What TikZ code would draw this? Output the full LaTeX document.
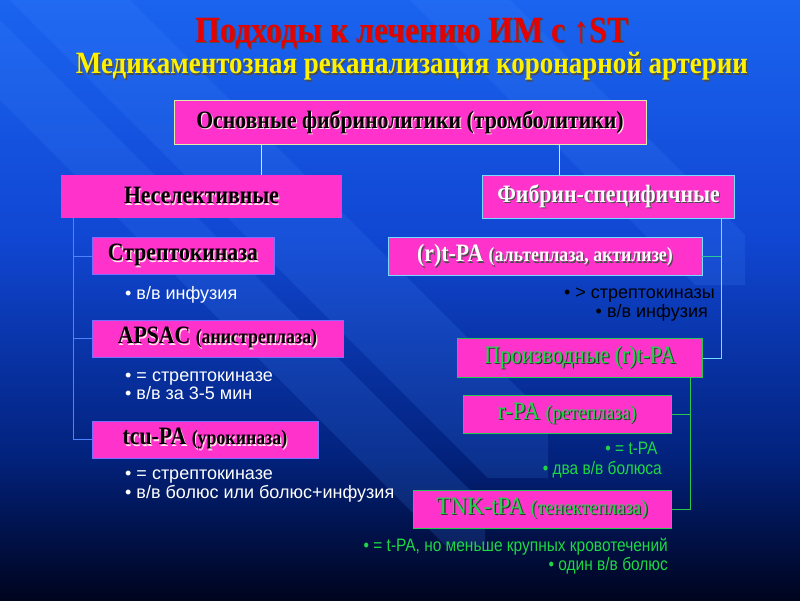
\documentclass[tikz,border=0pt]{standalone}
\usepackage{graphicx}
\usepackage{fontspec}
\setmainfont{Liberation Serif}
\newfontfamily\notefont{Liberation Sans}
\usetikzlibrary{positioning}

\definecolor{bgtop}{RGB}{26,100,240}
\definecolor{bgmid}{RGB}{16,70,210}
\definecolor{bgdark}{RGB}{2,34,125}
\definecolor{bgbot}{RGB}{0,4,30}
\definecolor{boxpink}{RGB}{255,51,204}
\definecolor{titlered}{RGB}{230,0,0}
\definecolor{grntext}{RGB}{30,215,70}
\definecolor{lineblue}{RGB}{80,130,255}
\definecolor{linecyan}{RGB}{120,220,255}
\definecolor{lineteal}{RGB}{40,200,150}
\definecolor{linecream}{RGB}{225,235,170}
\definecolor{linegreen}{RGB}{40,200,80}
\definecolor{edgeblue}{RGB}{120,110,255}
\definecolor{stripe}{RGB}{70,140,255}

\pgfdeclareverticalshading{slidebg}{100bp}{color(0bp)=(bgbot); color(25bp)=(bgbot);
  color(37bp)=(bgdark); color(55bp)=(bgmid); color(75bp)=(bgtop); color(100bp)=(bgtop)}

% text with a drop shadow: colour, shadow colour, text
\newcommand\shd[3]{\makebox[0pt][l]{\kern1.3pt\raisebox{-1.3pt}{\color{#2}#3}}{\color{#1}#3}}
% narrow the serif type a little
\newcommand\cnd[2][0.87]{\scalebox{#1}[1]{#2}}
\newcommand\bigtx{\bfseries\fontsize{25}{28}\selectfont}
\newcommand\smtx{\fontsize{20.5}{24}\selectfont}

\begin{document}
\begin{tikzpicture}[x=1pt,y=-1pt,
    pinkbox/.style = {fill=boxpink, inner sep=0pt, line width=0.8pt},
    note/.style = {font=\notefont\fontsize{18}{19}\selectfont, inner sep=0pt},
    link/.style = {line width=0.8pt}]
    \useasboundingbox (0,0) rectangle (800,600);
    \shade[shading=slidebg] (0,0) rectangle (800,600);
    % diagonal stripes of the slide
    \begin{scope}
        \clip (0,0) rectangle (800,600);
        \fill[stripe, fill opacity=0.16] (745,285) -- (745,235) -- (345,-165) -- (295,-115) -- (695,285) -- cycle;
        \fill[stripe, fill opacity=0.16] (548,478) -- (548,418) -- (48,-82) -- (-12,-22) -- (488,478) -- cycle;
        \fill[stripe, fill opacity=0.16] (485,545) -- (485,505) -- (-15,5) -- (-55,45) -- (445,545) -- cycle;
    \end{scope}

    % title
    \node (title) at (412,34) {\bfseries\fontsize{37}{40}\selectfont\cnd[0.86]{\shd{titlered}{black!70}{Подходы к лечению ИМ с ↑ST}}};
    \node (subtitle) at (412,67) {\bfseries\fontsize{31}{34}\selectfont\cnd[0.87]{\shd{yellow}{black!70}{Медикаментозная реканализация коронарной артерии}}};

    % boxes
    \node[pinkbox, draw=linecream, minimum width=472, minimum height=44] (top) at (410,122.5)
        {\bigtx\cnd{\shd{black}{pink!40}{Основные фибринолитики (тромболитики)}}};
    \node[pinkbox, minimum width=281, minimum height=43] (nonsel) at (201.5,196.5)
        {\bigtx\cnd{\shd{black}{pink!40}{Неселективные}}};
    \node[pinkbox, draw=linecyan, minimum width=252, minimum height=43] (fibrin) at (608.5,196.5)
        {\bigtx\cnd{\shd{white}{black!70}{Фибрин-специфичные}}};
    \node[pinkbox, draw=edgeblue, minimum width=182, minimum height=37] (strepto) at (183,256)
        {\bigtx\cnd{\shd{black}{pink!40}{Стрептокиназа}}};
    \node[pinkbox, draw=edgeblue, minimum width=251, minimum height=37] (apsac) at (217.5,338.5)
        {\bigtx\cnd{\shd{black}{pink!40}{APSAC {\smtx(анистреплаза)}}}};
    \node[pinkbox, draw=edgeblue, minimum width=226, minimum height=37] (tcupa) at (205,439.5)
        {\bigtx\cnd{\shd{black}{pink!40}{tcu-PA {\smtx(урокиназа)}}}};
    \node[pinkbox, draw=linecyan, minimum width=314, minimum height=38] (rtpa) at (545,256.5)
        {\bigtx\cnd{\shd{white}{black!70}{(r)t-PA {\smtx(альтеплаза, актилизе)}}}};
    \node[pinkbox, draw=linegreen, minimum width=245, minimum height=39] (deriv) at (580,358)
        {\bigtx\mdseries\cnd{\shd{grntext}{black!80}{Производные (r)t-PA}}};
    \node[pinkbox, draw=linegreen, minimum width=208, minimum height=38] (rpa) at (567,414)
        {\bigtx\mdseries\cnd[0.92]{\shd{grntext}{black!80}{r-PA {\smtx(ретеплаза)}}}};
    \node[pinkbox, draw=linegreen, minimum width=258, minimum height=38] (tnk) at (542,509)
        {\bigtx\mdseries\cnd[0.92]{\shd{grntext}{black!80}{TNK-tPA {\smtx(тенектеплаза)}}}};

    % notes under the boxes
    \node[note, text=white, anchor=west] (n1) at (125,295) {• в/в инфузия};
    \node[note, text=white, anchor=west, align=left] (n2) at (125,385.5)
        {• = стрептокиназе\\[-1.5pt]• в/в за 3-5 мин};
    \node[note, text=white, anchor=west, align=left] (n3) at (125,486.5)
        {• = стрептокиназе\\[0pt]• в/в болюс или болюс+инфузия};
    \node[note, text=black, anchor=east, align=right] (n4) at (715,304.5)
        {• > стрептокиназы\\[0pt]• в/в инфузия\hspace*{7pt}};
    \node[note, text=grntext, anchor=east] (n5) at (662,460.5)
        {\cnd[0.86]{\begin{tabular}{@{}r@{}}• = t-PA\hspace*{5pt}\\[1pt]• два в/в болюса\end{tabular}}};
    \node[note, text=grntext, anchor=east] (n6) at (668,557)
        {\cnd[0.86]{\begin{tabular}{@{}r@{}}• = t-PA, но меньше крупных кровотечений\\[-0.5pt]• один в/в болюс\end{tabular}}};

    % connectors
    \coordinate (lsplit) at (261,0);
    \coordinate (rsplit) at (559,0);
    \coordinate (ltrunk) at (73,0);
    \coordinate (rtrunk) at (721,0);
    \coordinate (gtrunk) at (690,0);
    \draw[link, linecream] (top.south -| lsplit) -- (nonsel.north -| lsplit);
    \draw[link, linecream] (top.south -| rsplit) -- (fibrin.north -| rsplit);
    \draw[link, lineblue] (nonsel.south -| ltrunk) |- (tcupa.west);
    \draw[link, lineblue] (ltrunk |- strepto.west) -- (strepto.west);
    \draw[link, lineblue] (ltrunk |- apsac.west) -- (apsac.west);
    \draw[link, linecyan] (fibrin.south -| rtrunk) |- (deriv.east);
    \draw[link, lineteal] (rtrunk |- rtpa.east) -- (rtpa.east);
    \draw[link, linegreen] (deriv.south -| gtrunk) |- (tnk.east);
    \draw[link, linegreen] (gtrunk |- rpa.east) -- (rpa.east);
\end{tikzpicture}
\end{document}
